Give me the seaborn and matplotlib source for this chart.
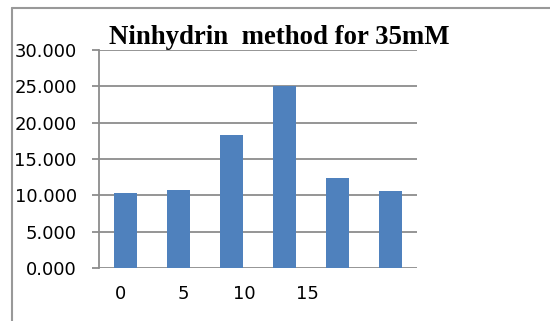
import matplotlib
matplotlib.use("Agg")
import matplotlib.pyplot as plt
import seaborn as sns
import pandas as pd
from matplotlib.ticker import FormatStrFormatter
from matplotlib.lines import Line2D

# Data
categories = ["A", "B", "C", "D", "E", "F"]
values = [10.3, 10.8, 18.3, 25.0, 12.4, 10.6]
xtick_labels = ["0", "5", "10", "15"]
xtick_positions = [-0.09, 1.1, 2.24, 3.44]
yticks = [0, 5, 10, 15, 20, 25, 30]
title = "Ninhydrin  method for 35mM"

sns.set_theme(style="white")
plt.rcParams['font.family'] = ['DejaVu Sans']

df = pd.DataFrame({"cat": categories, "val": values})

fig = plt.figure(figsize=(5.5, 3.21), dpi=100)
ax = fig.add_axes([99/550, 1-268/321, (417-99)/550, (268-50)/321])

sns.barplot(data=df, x="cat", y="val", color="#4F81BD", saturation=1,
            width=0.42, linewidth=0, edgecolor="none", ax=ax, zorder=3)

grid_c = "#8c8c8c"
ax.set_ylim(0, 30)
ax.set_xlim(-0.5, 5.5)
ax.set_yticks(yticks)
ax.yaxis.set_major_formatter(FormatStrFormatter("%.3f"))
ax.yaxis.grid(True, color=grid_c, linewidth=1.3, zorder=0)
ax.set_axisbelow(True)
ax.set_xticks(xtick_positions)
ax.set_xticklabels(xtick_labels)
ax.set_xlabel("")
ax.set_ylabel("")
ax.tick_params(axis="y", length=5, width=1.3, color=grid_c, pad=11, labelsize=13, labelcolor="black", left=True)
ax.tick_params(axis="x", length=0, pad=12, labelsize=13, labelcolor="black")
for s in ["top", "right", "bottom"]:
    ax.spines[s].set_visible(False)
ax.spines["left"].set_color(grid_c)
ax.spines["left"].set_linewidth(1.3)
ax.spines["left"].set_zorder(4)

fig.text(279.5/550, 1-37/321, title, ha="center", va="center", color="black",
         fontsize=19.3, fontweight="bold", family=["Liberation Serif"])

# outer frame (top and left)
fig.add_artist(Line2D([12/550, 12/550], [0, 1-8/321], transform=fig.transFigure, color="#999999", linewidth=1.5))
fig.add_artist(Line2D([12/550, 1], [1-8/321, 1-8/321], transform=fig.transFigure, color="#999999", linewidth=1.5))

fig.savefig("out.png", dpi=100)
